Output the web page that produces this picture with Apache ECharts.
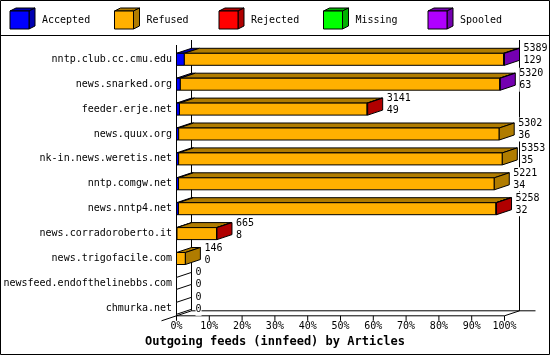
<!DOCTYPE html>
<html><head><meta charset="utf-8">
<script src="https://cdn.jsdelivr.net/npm/echarts@6/dist/echarts.min.js"></script>
<style>html,body{margin:0;padding:0;background:#fff}#c{width:550px;height:355px}</style>
</head><body><div id="c"></div>
<script>
const hosts = ['nntp.club.cc.cmu.edu','news.snarked.org','feeder.erje.net','news.quux.org','nk-in.news.weretis.net','nntp.comgw.net','news.nntp4.net','news.corradoroberto.it','news.trigofacile.com','newsfeed.endofthelinebbs.com','chmurka.net'];
const offered  = [5389, 5320, 3141, 5302, 5353, 5221, 5258, 665, 146, 0, 0];
const accepted = [129, 63, 49, 36, 35, 34, 32, 8, 0, 0, 0];
const refused  = [5245, 5247, 3082, 5266, 5318, 5187, 5216, 652, 146, 0, 0];
const rejected = [0, 0, 10, 0, 0, 0, 10, 5, 0, 0, 0];
const missing  = [0, 0, 0, 0, 0, 0, 0, 0, 0, 0, 0];
const spooled  = [15, 10, 0, 0, 0, 0, 0, 0, 0, 0, 0];
const seriesNames = ['Accepted','Refused','Rejected','Missing','Spooled'];
const xTickLabels = ['0%','10%','20%','30%','40%','50%','60%','70%','80%','90%','100%'];
const titleText = 'Outgoing feeds (innfeed) by Articles';

const colors = ['#0000ff','#ffb000','#ff0000','#00ff00','#b000ff'];
const darkColors = ['#0000b0','#b07c00','#b00000','#00b000','#7400b0'];
const FONT = 'DejaVu Sans Mono';
const maxOffered = Math.max.apply(null, offered);
const segs = [accepted, refused, rejected, missing, spooled];
const DX = 15, DY = 5, HALF = 6;
const stroke = {stroke:'#000', lineWidth:1};

function pct(v){ return v / maxOffered * 100; }

function renderBar(params, api) {
  const i = api.value(1);
  const children = [];
  const yc = api.coord([0, i])[1];
  const yt = yc - HALF, yb = yc + HALF;
  let lastIdx = -1;
  segs.forEach((arr,k)=>{ if (arr[i] > 0) lastIdx = k; });
  let cum = 0;
  let xEnd = api.coord([0, i])[0];
  for (let k = 0; k < segs.length; k++) {
    const v = segs[k][i];
    if (v <= 0) continue;
    const x1 = api.coord([pct(cum), i])[0];
    cum += v;
    const x2 = api.coord([pct(cum), i])[0];
    xEnd = x2;
    children.push({type:'polygon', shape:{points:[[x1,yt],[x1+DX,yt-DY],[x2+DX,yt-DY],[x2,yt]]}, style:Object.assign({fill:darkColors[k]}, stroke)});
    children.push({type:'rect', shape:{x:x1, y:yt, width:x2-x1, height:yb-yt}, style:Object.assign({fill:colors[k]}, stroke)});
    if (k === lastIdx) {
      children.push({type:'polygon', shape:{points:[[x2,yt],[x2+DX,yt-DY],[x2+DX,yb-DY],[x2,yb]]}, style:Object.assign({fill:darkColors[k]}, stroke)});
    }
  }
  if (lastIdx < 0) {
    children.push({type:'polygon', shape:{points:[[xEnd,yt],[xEnd+DX,yt-DY],[xEnd+DX,yb-DY],[xEnd,yb]]}, style:Object.assign({fill:'#fff'}, stroke)});
  }
  children.push({type:'text', x: xEnd + DX + 4, y: yc - 16.5, style:{
    text: offered[i] + '\n' + accepted[i], fill:'#000', font: '10px "' + FONT + '"',
    lineHeight: 12, verticalAlign:'top', align:'left', backgroundColor:'#fff'}});
  return {type:'group', children};
}

function renderFrame(params, api) {
  const n = hosts.length;
  const x0 = api.coord([0, 0])[0];
  const x100 = api.coord([100, 0])[0];
  const yTop = api.coord([0, 0])[1] - 14.3;
  const yFloor = api.coord([0, n-1])[1] + 7.5;
  const L = (a,b,c,d) => ({type:'line', shape:{x1:a,y1:b,x2:c,y2:d}, style:stroke});
  const ch = [
    L(x0, yTop, x0, yFloor),
    L(x0+DX, yTop-DY, x0+DX, yFloor-DY),
    L(x100+DX, yTop-DY, x100+DX, yFloor-DY),
    L(x0+DX, yFloor-DY, x100+2*DX+1, yFloor-DY),
    L(x0, yFloor, x100, yFloor),
    L(x100, yFloor, x100+DX, yFloor-DY),
    L(x0-DX, yFloor+DY, x0+DX, yFloor-DY)
  ];
  for (let t = 0; t < xTickLabels.length; t++) {
    const x = api.coord([t*10, 0])[0];
    ch.push(L(x, yFloor, x, yFloor+5));
  }
  return {type:'group', children: ch};
}

const legendEls = [];
seriesNames.forEach((name, k) => {
  const x = 10 + 104.5*k;
  legendEls.push({type:'polygon', shape:{points:[[x,11],[x+6,8],[x+25,8],[x+19,11]]}, style:Object.assign({fill:darkColors[k]}, stroke)});
  legendEls.push({type:'polygon', shape:{points:[[x+19,11],[x+25,8],[x+25,26],[x+19,29]]}, style:Object.assign({fill:darkColors[k]}, stroke)});
  legendEls.push({type:'rect', shape:{x:x, y:11, width:19, height:18}, style:Object.assign({fill:colors[k]}, stroke)});
  legendEls.push({type:'text', x:x+32, y:20, style:{text:name, fill:'#000', font:'10px "'+FONT+'"', verticalAlign:'middle'}});
});

const chart = echarts.init(document.getElementById('c'), null, {renderer:'canvas'});
chart.setOption({
  animation:false,
  backgroundColor:'#fff',
  grid:{left:176.5, right:45.5, top:46.85, bottom:34.25, containLabel:false},
  xAxis:{type:'value', min:0, max:100, interval:10,
    axisLine:{show:false}, axisTick:{show:false}, splitLine:{show:false},
    axisLabel:{margin:1, fontFamily:FONT, fontSize:10, color:'#000', formatter:(v)=>xTickLabels[Math.round(v/10)]}},
  yAxis:{type:'category', inverse:true, data:hosts,
    axisLine:{show:false}, axisTick:{show:false}, splitLine:{show:false},
    axisLabel:{margin:4.5, fontFamily:FONT, fontSize:10, color:'#000'}},
  graphic:[
    {type:'rect', shape:{x:0.5, y:0.5, width:549, height:354}, style:{fill:'none', stroke:'#000', lineWidth:1}, z:100},
    {type:'line', shape:{x1:0, y1:35.5, x2:550, y2:35.5}, style:stroke, z:100},
    {type:'group', children:legendEls},
    {type:'text', x:275, y:342, style:{text:titleText, fill:'#000', font:'bold 12px "'+FONT+'"', align:'center', verticalAlign:'middle'}}
  ],
  series:[
    {type:'custom', clip:false, z:1, renderItem:renderFrame, data:[[0,0]], encode:{x:0,y:1}, silent:true},
    {type:'custom', clip:false, z:2, renderItem:renderBar, data:hosts.map((h,i)=>[pct(offered[i]), i]), encode:{x:0,y:1}, silent:true}
  ]
});
</script></body></html>
